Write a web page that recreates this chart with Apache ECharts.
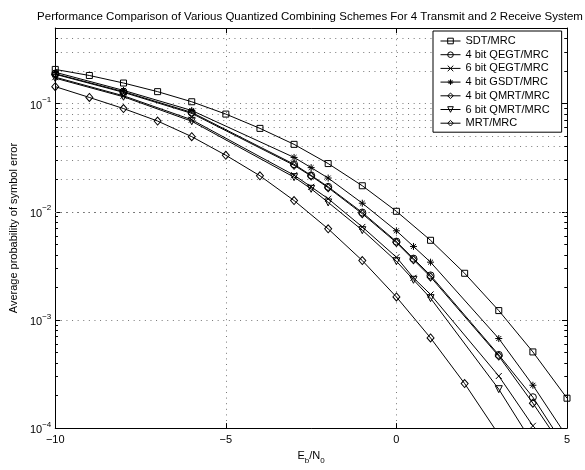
<!DOCTYPE html>
<html><head><meta charset="utf-8">
<script src="https://cdn.jsdelivr.net/npm/echarts@6/dist/echarts.min.js"></script>
<style>html,body{margin:0;padding:0;background:#fff}#c{width:585px;height:470px}</style>
</head><body><div id="c"></div>
<script>
// ---- data ----
const xSDT = [-10,-9,-8,-7,-6,-5,-4,-3,-2,-1,0,1,2,3,4,5];
const sdtMRC = [0.207,0.182,0.155,0.129,0.104,0.080,0.059,0.042,0.0279,0.0174,0.0101,0.00545,0.0027,0.00122,0.000506,0.000189];
const xMRT = [-10,-9,-8,-7,-6,-5,-4,-3,-2,-1,0,1,2,3];
const mrtMRC = [0.1435,0.114,0.090,0.069,0.0495,0.0333,0.0215,0.0127,0.00695,0.00354,0.00163,0.000682,0.000258,0.000087];
const xMid = [-10,-8,-6,-3,-2.5,-2,-1,0,0.5,1,3,4,5];
const gsdt4 = [0.1949,0.1325,0.0864,0.0318,0.0256,0.0205,0.0120,0.00667,0.00478,0.00342,0.000673,0.000249,0.000083];
const qegt4 = [0.1888,0.129,0.0829,0.0275,0.0217,0.0170,0.00984,0.00530,0.00369,0.00258,0.000475,0.000193,0.000063];
const qmrt4 = [0.1868,0.1271,0.0812,0.0269,0.0214,0.0167,0.00959,0.00519,0.00360,0.00250,0.000463,0.000170,0.000058];
const xMid6 = [-10,-8,-6,-3,-2.5,-2,-1,0,0.5,1,3,4];
const qegt6 = [0.1755,0.1181,0.0709,0.0218,0.0170,0.0132,0.00724,0.00380,0.00245,0.00172,0.000303,0.000105];
const qmrt6 = [0.1719,0.1157,0.0687,0.0209,0.0163,0.0122,0.00676,0.00349,0.00235,0.00159,0.000229,0.000072];
const xTicks = [-10,-5,0,5];
const yMin = 1e-4, yMax = 0.5;
const titleText = 'Performance Comparison of Various Quantized Combining Schemes For 4 Transmit and 2 Receive System';
const yName = 'Average probability of symbol error';

const FONT = 'Liberation Sans, Arial, Helvetica, sans-serif';
const pair = (xs, ys) => xs.map((x, i) => [x, ys[i]]);
const X_SYM = 'path://M0,0L10,10M10,0L0,10';
const AST_SYM = 'path://M5,0L5,10M0,5L10,5M1.5,1.5L8.5,8.5M8.5,1.5L1.5,8.5';
const CLEAR = 'rgba(0,0,0,0)';

function mk(name, xs, ys, symbol, size, rot) {
  return {
    name, type: 'line', data: pair(xs, ys), symbol, symbolSize: size, symbolRotate: rot || 0,
    showAllSymbol: true, clip: true, z: 5, animation: false, color: '#000',
    lineStyle: { color: '#000', width: 1 },
    itemStyle: { color: CLEAR, borderColor: '#000', borderWidth: 1 },
    emphasis: { disabled: true }
  };
}

// minor gridline values (2..9 x 10^k) for the log axis
const minorVals = [];
for (let k = -4; k <= -1; k++) for (let m = 2; m <= 9; m++) { const v = m * Math.pow(10, k); if (v < yMax - 1e-12) minorVals.push(+v.toPrecision(3)); }

const dotted = { type: [1, 4.6], color: '#777', width: 1 };

const gridSeries = {
  name: '__grid', type: 'line', data: [], silent: true, z: 1, animation: false,
  markLine: {
    silent: true, symbol: 'none', animation: false, label: { show: false },
    lineStyle: dotted,
    data: minorVals.map(v => ({ yAxis: v }))
  }
};
const minorTickSeries = {
  name: '__ticks', type: 'line', data: [], silent: true, z: 2, animation: false,
  markLine: {
    silent: true, symbol: 'none', animation: false, label: { show: false },
    lineStyle: { type: 'solid', color: '#000', width: 1 },
    data: minorVals.map(v => [{ coord: [-10, v] }, { coord: [-9.92, v] }])
      .concat(minorVals.map(v => [{ coord: [4.92, v] }, { coord: [5, v] }]))
  }
};

function yLabel(v) {
  const l = Math.log10(v), e = Math.round(l);
  if (Math.abs(l - e) > 1e-6) return '';
  return '{b|10}{s|' + (e < 0 ? '\u2212' : '') + Math.abs(e) + '}';
}

const chart = echarts.init(document.getElementById('c'), null, { renderer: 'canvas' });
chart.setOption({
  backgroundColor: '#fff',
  animation: false,
  textStyle: { fontFamily: FONT },
  grid: { left: 51, right: 18, top: 28, bottom: 36, containLabel: false },
  graphic: [{
    type: 'text', x: 310, y: 17, z: 10,
    style: { text: titleText, x: 0, y: 0, align: 'center', verticalAlign: 'middle', fill: '#000', font: '11.5px ' + FONT }
  }],
  legend: {
    orient: 'vertical', left: 433, top: 31,
    itemWidth: 20, itemHeight: 7, itemGap: 1.7,
    padding: [4, 12, 3, 7],
    borderColor: '#000', borderWidth: 1, backgroundColor: '#fff',
    itemStyle: { color: CLEAR, borderColor: '#000', borderWidth: 1 },
    lineStyle: { color: '#000', width: 1 },
    textStyle: { fontSize: 11, fontFamily: FONT, color: '#000', lineHeight: 12 },
    data: ['SDT/MRC', '4 bit QEGT/MRC', '6 bit QEGT/MRC', '4 bit GSDT/MRC', '4 bit QMRT/MRC', '6 bit QMRT/MRC', 'MRT/MRC'],
    selectedMode: false, z: 20
  },
  xAxis: [{
    type: 'value', min: -10, max: 5, interval: 5, position: 'bottom',
    name: '{n|E}{sub|b}{n|/N}{sub|0}', nameLocation: 'middle', nameGap: 19,
    nameTextStyle: { rich: {
      n: { fontSize: 11, fontFamily: FONT, color: '#000', lineHeight: 15, verticalAlign: 'top' },
      sub: { fontSize: 8, fontFamily: FONT, color: '#000', lineHeight: 15, verticalAlign: 'bottom' } } },
    axisLine: { show: true, onZero: false, lineStyle: { color: '#000', width: 1 } },
    axisTick: { show: true, inside: true, length: 5, lineStyle: { color: '#000' } },
    axisLabel: { fontSize: 11, color: '#000', fontFamily: FONT, margin: 6, formatter: v => String(v).replace('-', '\u2212') },
    splitLine: { show: true, lineStyle: dotted }
  }, {
    type: 'value', min: -10, max: 5, interval: 5, position: 'top',
    axisLine: { show: true, onZero: false, lineStyle: { color: '#000', width: 1 } },
    axisTick: { show: true, inside: true, length: 5, lineStyle: { color: '#000' } },
    axisLabel: { show: false }, splitLine: { show: false }
  }],
  yAxis: [{
    type: 'log', logBase: 10, min: yMin, max: yMax, position: 'left',
    name: yName, nameLocation: 'middle', nameGap: 30, nameRotate: 90,
    nameTextStyle: { fontSize: 11, color: '#000', fontFamily: FONT },
    axisLine: { show: true, onZero: false, lineStyle: { color: '#000', width: 1 } },
    axisTick: { show: true, inside: true, length: 5, lineStyle: { color: '#000' } },
    axisLabel: { color: '#000', margin: 4, formatter: yLabel, showMaxLabel: false,
      rich: {
        b: { fontSize: 11, fontFamily: FONT, color: '#000', lineHeight: 15, verticalAlign: 'bottom' },
        s: { fontSize: 8, fontFamily: FONT, color: '#000', lineHeight: 15, verticalAlign: 'top' } } },
    splitLine: { show: true, lineStyle: dotted }
  }, {
    type: 'log', logBase: 10, min: yMin, max: yMax, position: 'right',
    axisLine: { show: true, onZero: false, lineStyle: { color: '#000', width: 1 } },
    axisTick: { show: true, inside: true, length: 5, lineStyle: { color: '#000' } },
    axisLabel: { show: false }, splitLine: { show: false }
  }],
  series: [
    gridSeries, minorTickSeries,
    mk('SDT/MRC', xSDT, sdtMRC, 'rect', 6),
    mk('4 bit QEGT/MRC', xMid, qegt4, 'circle', 7),
    mk('6 bit QEGT/MRC', xMid6, qegt6, X_SYM, 6),
    mk('4 bit GSDT/MRC', xMid, gsdt4, AST_SYM, 7),
    mk('4 bit QMRT/MRC', xMid, qmrt4, 'diamond', [7, 8]),
    mk('6 bit QMRT/MRC', xMid6, qmrt6, 'triangle', 7, 180),
    mk('MRT/MRC', xMRT, mrtMRC, 'diamond', [7, 8])
  ]
});
</script></body></html>
